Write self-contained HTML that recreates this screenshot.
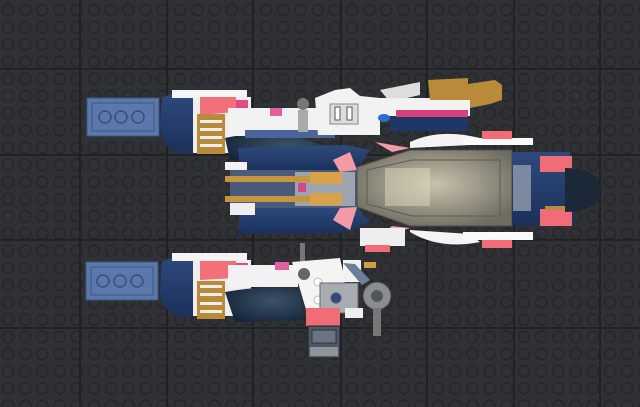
<!DOCTYPE html>
<html><head><meta charset="utf-8"><style>html,body{margin:0;padding:0;background:#2f3134;}svg{display:block}</style></head>
<body>
<svg width="640" height="407" viewBox="0 0 640 407" xmlns="http://www.w3.org/2000/svg">
<defs>
<pattern id="st" x="-0.6" y="1.4" width="17.2" height="17.2" patternUnits="userSpaceOnUse">
<circle cx="8.6" cy="8.6" r="5.6" fill="none" stroke="#232527" stroke-width="1.3"/>
</pattern>
<radialGradient id="dk" cx="0.6" cy="0.4" r="0.7"><stop offset="0" stop-color="#3d5266"/><stop offset="1" stop-color="#15243a"/></radialGradient>
<linearGradient id="nv" x1="0" y1="0" x2="0" y2="1"><stop offset="0" stop-color="#2d4a7c"/><stop offset="1" stop-color="#1b305a"/></linearGradient>
<radialGradient id="cp" cx="0.5" cy="0.45" r="0.6"><stop offset="0" stop-color="#c9c3ad"/><stop offset="1" stop-color="#6f6c62"/></radialGradient>
</defs>
<rect width="640" height="407" fill="#2f3134"/>
<rect width="640" height="407" fill="url(#st)"/>
<g stroke="#1c1d1f" stroke-width="1.5">
<line x1="80" y1="0" x2="80" y2="407"/><line x1="167" y1="0" x2="167" y2="407"/><line x1="253" y1="0" x2="253" y2="407"/><line x1="341" y1="0" x2="341" y2="407"/><line x1="427" y1="0" x2="427" y2="407"/><line x1="514" y1="0" x2="514" y2="407"/><line x1="600" y1="0" x2="600" y2="407"/>
<line x1="0" y1="69" x2="640" y2="69"/><line x1="0" y1="155" x2="640" y2="155"/><line x1="0" y1="240" x2="640" y2="240"/><line x1="0" y1="328" x2="640" y2="328"/>
</g>

<!-- TOP ENGINE -->
<rect x="87" y="98" width="72" height="38" fill="#5b78ad" stroke="#3e557f"/>
<rect x="92" y="103" width="62" height="28" fill="none" stroke="#3e557f"/>
<g fill="none" stroke="#3a4f77" stroke-width="1.5"><circle cx="105" cy="117" r="6"/><circle cx="121" cy="117" r="6"/><circle cx="138" cy="117" r="6"/></g>
<path d="M162 98 Q170 92 195 93 L200 148 L185 155 Q160 150 160 125 Z" fill="url(#nv)"/>
<rect x="172" y="90" width="75" height="8" fill="#f4f4f4"/>
<rect x="193" y="97" width="58" height="56" fill="#eee"/>
<path d="M200 97 L236 97 L236 112 L200 115 Z" fill="#f2707a"/>
<rect x="236" y="100" width="12" height="10" fill="#e04a8a"/>
<g fill="#b98a3a"><rect x="197" y="114" width="28" height="40"/></g>
<g fill="#eee"><rect x="200" y="120" width="22" height="3"/><rect x="200" y="128" width="22" height="3"/><rect x="200" y="136" width="22" height="3"/><rect x="200" y="144" width="22" height="3"/></g>
<path d="M225 138 Q260 130 300 138 L330 148 L330 162 L230 160 Z" fill="url(#dk)"/>
<rect x="228" y="108" width="100" height="28" fill="#f2f2f2"/>
<rect x="270" y="108" width="12" height="8" fill="#e060a0"/>
<rect x="245" y="130" width="90" height="8" fill="#4a6597"/>
<circle cx="303" cy="104" r="6" fill="#777"/><rect x="298" y="110" width="10" height="22" fill="#aaa"/>
<path d="M315 98 L335 90 L350 88 L360 96 L380 98 L380 135 L318 135 Z" fill="#f2f2f2"/>
<rect x="330" y="104" width="28" height="20" fill="#ddd" stroke="#888"/>
<rect x="335" y="107" width="5" height="13" fill="#fff" stroke="#555"/><rect x="347" y="107" width="5" height="13" fill="#fff" stroke="#555"/>
<path d="M380 90 L420 82 L420 95 L390 102 Z" fill="#ddd"/>
<rect x="380" y="98" width="90" height="18" fill="#f2f2f2"/>
<rect x="396" y="110" width="72" height="9" fill="#d9407a"/>
<rect x="390" y="117" width="78" height="14" fill="#1f3766"/>
<ellipse cx="384" cy="118" rx="6" ry="4" fill="#2a6fc8"/>
<path d="M428 80 L468 78 L468 84 L495 80 L502 85 L502 100 L490 104 L470 108 L470 100 L430 100 Z" fill="#b98a3a"/>

<!-- MAIN BODY -->
<path d="M238 148 L345 145 L370 150 L357 170 L240 172 Z" fill="url(#nv)"/>
<path d="M240 208 L357 207 L370 222 L345 233 L238 234 Z" fill="url(#nv)"/>
<rect x="225" y="162" width="22" height="8" fill="#f2f2f2"/>
<rect x="230" y="170" width="130" height="38" fill="#4a5a7a"/>
<rect x="295" y="172" width="60" height="34" fill="#9ea4ad"/>
<rect x="225" y="176" width="108" height="6" fill="#c59540"/>
<rect x="225" y="196" width="108" height="6" fill="#c59540"/>
<rect x="310" y="172" width="32" height="12" fill="#d8a24a"/>
<rect x="310" y="193" width="32" height="12" fill="#d8a24a"/>
<rect x="298" y="183" width="8" height="9" fill="#d04a8a"/>
<rect x="230" y="203" width="25" height="12" fill="#eee"/>
<path d="M333 160 L350 152 L357 170 L340 172 Z" fill="#f39aa6"/>
<path d="M333 220 L350 230 L357 207 L340 208 Z" fill="#f39aa6"/>
<path d="M375 142 L410 148 L392 152 Z" fill="#f39aa6"/>
<path d="M375 240 L410 228 L392 226 Z" fill="#f39aa6"/>
<path d="M357 167 L410 150 L512 150 L512 226 L410 226 L357 207 Z" fill="url(#cp)" stroke="#4e4b44"/>
<path d="M367 170 L412 160 L500 160 L500 216 L412 216 L367 204 Z" fill="none" stroke="#5e5a50"/>
<rect x="385" y="168" width="45" height="38" fill="#ddd8c0" opacity="0.5"/>
<path d="M512 152 L570 152 L575 225 L512 226 Z" fill="url(#nv)"/>
<rect x="513" y="165" width="18" height="46" fill="#7c8aa0"/>
<rect x="540" y="156" width="32" height="16" fill="#f06d78"/>
<rect x="540" y="209" width="32" height="17" fill="#f06d78"/>
<path d="M565 168 Q598 168 600 190 Q598 212 565 212 Z" fill="#1b2838"/>
<rect x="545" y="206" width="20" height="4" fill="#b98a3a"/>
<path d="M410 142 Q440 128 480 138 L470 145 L410 148 Z" fill="#f4f4f4"/>
<path d="M410 232 Q440 250 480 242 L470 234 L410 230 Z" fill="#f4f4f4"/>
<rect x="463" y="138" width="70" height="7" fill="#fafafa"/>
<rect x="463" y="232" width="70" height="8" fill="#fafafa"/>
<rect x="482" y="131" width="30" height="8" fill="#f06d78"/>
<rect x="482" y="240" width="30" height="8" fill="#f06d78"/>
<rect x="360" y="228" width="45" height="18" fill="#eee"/>
<rect x="365" y="245" width="25" height="7" fill="#f06d78"/>

<!-- BOTTOM ENGINE -->
<rect x="86" y="262" width="72" height="38" fill="#5b78ad" stroke="#3e557f"/>
<rect x="91" y="267" width="62" height="28" fill="none" stroke="#3e557f"/>
<g fill="none" stroke="#3a4f77" stroke-width="1.5"><circle cx="103" cy="281" r="6"/><circle cx="120" cy="281" r="6"/><circle cx="137" cy="281" r="6"/></g>
<path d="M162 262 Q170 256 195 257 L200 312 L185 318 Q160 312 160 290 Z" fill="url(#nv)"/>
<rect x="172" y="253" width="75" height="8" fill="#f4f4f4"/>
<rect x="193" y="260" width="58" height="56" fill="#eee"/>
<path d="M200 261 L236 261 L236 278 L200 280 Z" fill="#f2707a"/>
<rect x="236" y="263" width="12" height="10" fill="#e04a8a"/>
<rect x="197" y="281" width="28" height="38" fill="#b98a3a"/>
<g fill="#eee"><rect x="200" y="285" width="22" height="3"/><rect x="200" y="293" width="22" height="3"/><rect x="200" y="302" width="22" height="3"/><rect x="200" y="310" width="22" height="3"/></g>
<path d="M225 292 Q270 284 300 290 L305 320 L235 322 Z" fill="url(#dk)"/>
<rect x="228" y="265" width="70" height="22" fill="#f2f2f2"/>
<rect x="275" y="262" width="14" height="8" fill="#e060a0"/>
<rect x="300" y="243" width="5" height="25" fill="#777"/>
<path d="M292 262 L340 258 L345 280 L335 330 L312 330 Z" fill="#f4f4f4"/>
<circle cx="304" cy="274" r="6" fill="#666"/>
<circle cx="318" cy="282" r="4" fill="#fff" stroke="#bbb"/><circle cx="318" cy="300" r="4" fill="#fff" stroke="#bbb"/>
<rect x="320" y="283" width="38" height="30" fill="#a8acb2" stroke="#666"/>
<circle cx="336" cy="298" r="5" fill="#2f4a80" stroke="#555"/>
<rect x="343" y="260" width="18" height="22" fill="#f2f2f2"/>
<path d="M343 263 L355 264 L370 280 L362 285 Z" fill="#6d7f9a"/>
<rect x="364" y="262" width="12" height="6" fill="#d0a040"/>
<rect x="345" y="308" width="18" height="10" fill="#eee"/>
<circle cx="377" cy="296" r="14" fill="#8a8e94" stroke="#444"/>
<circle cx="377" cy="296" r="6" fill="#555"/>
<rect x="373" y="308" width="8" height="28" fill="#777"/>
<rect x="306" y="308" width="34" height="18" fill="#f06d78"/>
<rect x="308" y="326" width="32" height="32" fill="#4d5868" stroke="#222"/>
<rect x="312" y="330" width="24" height="13" fill="#6a7483" stroke="#333"/>
<rect x="310" y="347" width="28" height="9" fill="#909398"/>
</svg>
</body></html>
